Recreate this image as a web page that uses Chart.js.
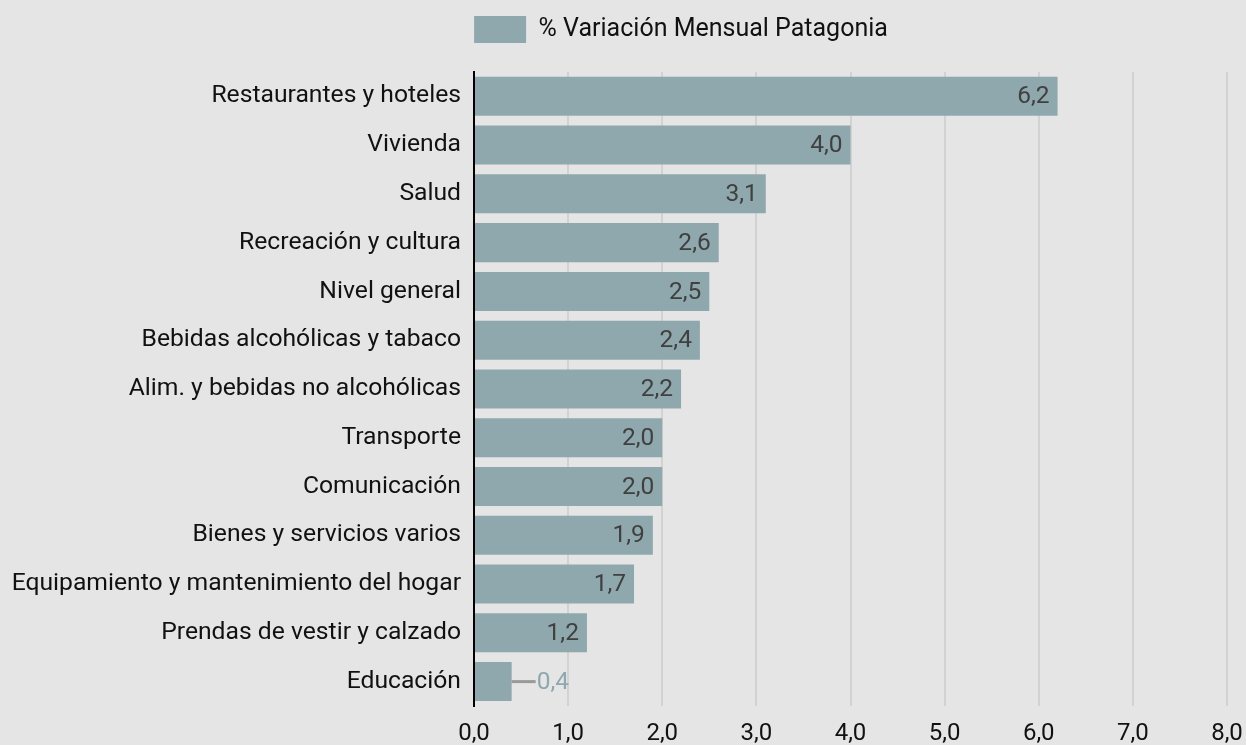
<!DOCTYPE html>
<html>
<head>
<meta charset="utf-8">
<style>
  html, body { margin: 0; padding: 0; background: #e5e5e5; }
  #wrap { width: 1246px; height: 745px; position: relative; }
</style>
<script src="https://cdn.jsdelivr.net/npm/chart.js@4/dist/chart.umd.min.js"></script>
</head>
<body>
<div id="wrap"><canvas id="c" width="1246" height="745"></canvas></div>
<script>
const categories = [
  "Restaurantes y hoteles",
  "Vivienda",
  "Salud",
  "Recreación y cultura",
  "Nivel general",
  "Bebidas alcohólicas y tabaco",
  "Alim. y bebidas no alcohólicas",
  "Transporte",
  "Comunicación",
  "Bienes y servicios varios",
  "Equipamiento y mantenimiento del hogar",
  "Prendas de vestir y calzado",
  "Educación"
];
const seriesName = "% Variación Mensual Patagonia";
const values = [6.2, 4.0, 3.1, 2.6, 2.5, 2.4, 2.2, 2.0, 2.0, 1.9, 1.7, 1.2, 0.4];
const xTicks = [0, 1, 2, 3, 4, 5, 6, 7, 8];

const fmt = v => Number(v).toFixed(1).replace('.', ',');
const FONT = "Roboto, 'Noto Sans', sans-serif";
const BAR = "#8fa8ae";

const valueLabels = {
  id: 'valueLabels',
  afterDatasetsDraw(chart) {
    const ctx = chart.ctx;
    const meta = chart.getDatasetMeta(0);
    ctx.save();
    ctx.font = "24.5px " + FONT;
    ctx.textBaseline = 'middle';
    meta.data.forEach((bar, i) => {
      const v = values[i];
      const txt = fmt(v);
      if (v >= 1) {
        ctx.fillStyle = '#404040';
        ctx.textAlign = 'right';
        ctx.fillText(txt, bar.x - 8, bar.y + 1);
      } else {
        ctx.strokeStyle = '#999999';
        ctx.lineWidth = 3;
        ctx.beginPath();
        ctx.moveTo(bar.x, bar.y);
        ctx.lineTo(bar.x + 24, bar.y);
        ctx.stroke();
        ctx.fillStyle = BAR;
        ctx.textAlign = 'left';
        ctx.fillText(txt, bar.x + 25, bar.y + 1);
      }
    });
    ctx.restore();
  }
};

const legendShift = {
  id: 'legendShift',
  afterLayout(chart) {
    const lg = chart.legend;
    if (lg) { lg.left += 58; lg.right += 58; }
  }
};

new Chart(document.getElementById('c'), {
  type: 'bar',
  data: {
    labels: categories,
    datasets: [{
      label: seriesName,
      data: values,
      backgroundColor: BAR,
      borderWidth: 0,
      barPercentage: 0.8,
      categoryPercentage: 1.0
    }]
  },
  options: {
    indexAxis: 'y',
    responsive: false,
    animation: false,
    devicePixelRatio: 1,
    layout: { padding: { top: 6, bottom: 0, left: 0, right: 0 } },
    plugins: {
      legend: {
        display: true,
        position: 'top',
        labels: {
          boxWidth: 52,
          boxHeight: 27,
          padding: 10,
          color: '#111111',
          font: { family: FONT, size: 25 }
        }
      },
      subtitle: {
        display: true,
        text: '',
        weight: 500,
        padding: { top: 4.5, bottom: 0 },
        font: { size: 12 }
      },
      tooltip: { enabled: false }
    },
    scales: {
      x: {
        min: 0,
        max: 8,
        afterBuildTicks(scale) { scale.ticks = xTicks.map(v => ({ value: v })); },
        afterFit(scale) { scale.paddingRight = 19; scale.height = 39; },
        ticks: {
          color: '#111111',
          font: { family: FONT, size: 24, lineHeight: 1.1 },
          padding: 15,
          callback: v => fmt(v)
        },
        grid: {
          color: '#d2d2d2',
          lineWidth: 2,
          drawTicks: false
        },
        border: { display: false }
      },
      y: {
        afterFit(scale) { scale.width = 474; },
        ticks: {
          color: '#111111',
          font: { family: FONT, size: 24.7 },
          padding: 13
        },
        grid: { display: false, drawTicks: false },
        border: { display: true, color: '#000000', width: 2 }
      }
    }
  },
  plugins: [valueLabels, legendShift]
});
</script>
</body>
</html>
